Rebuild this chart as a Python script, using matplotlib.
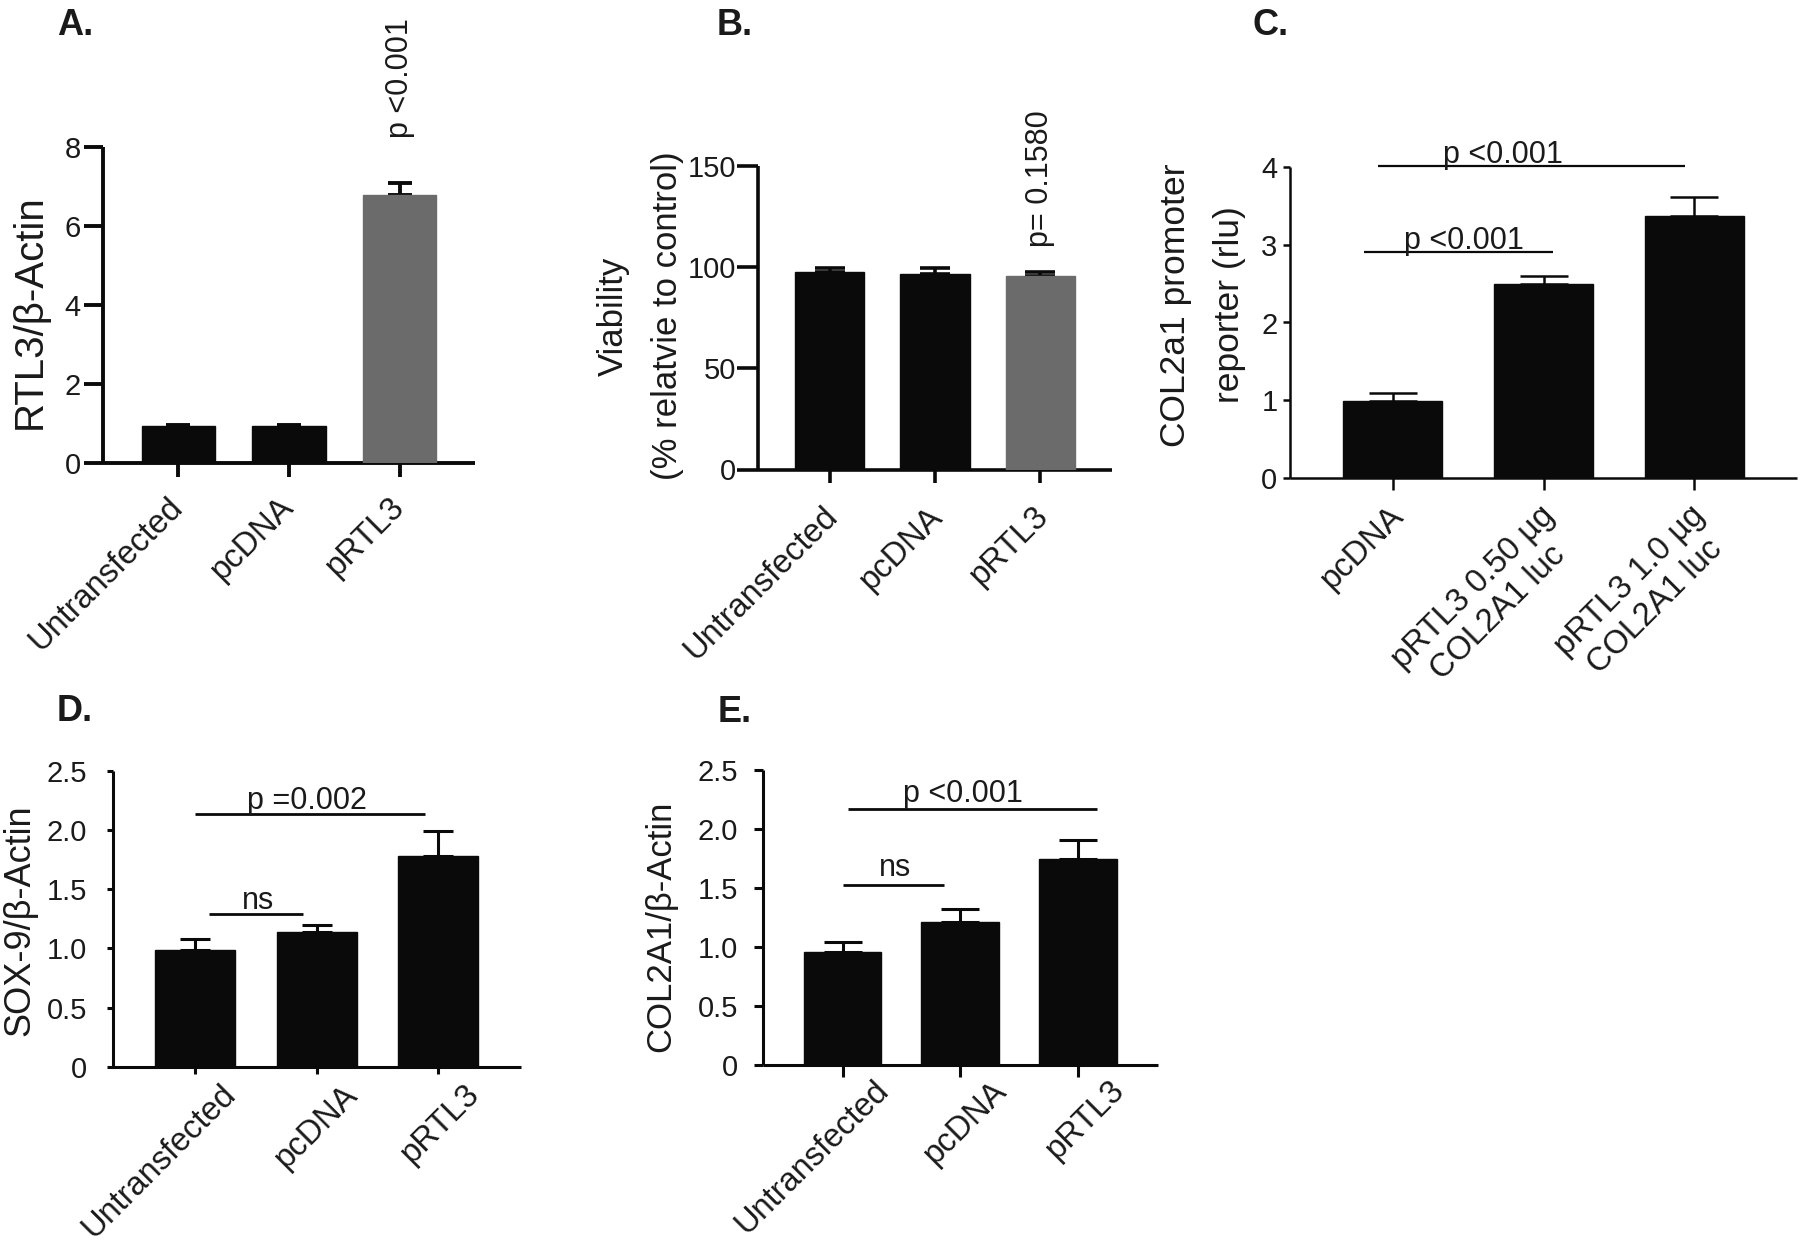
import numpy as np
import matplotlib.pyplot as plt
from matplotlib.transforms import ScaledTranslation

plt.rcParams['font.family'] = ['Liberation Sans', 'DejaVu Sans']

# ---- data ----
groups = ['Untransfected', 'pcDNA', 'pRTL3']
col2_groups = ['pcDNA', 'pRTL3 0.50 µg\nCOL2A1 luc', 'pRTL3 1.0 µg\nCOL2A1 luc']

rtl3_mean = [0.93, 0.93, 6.8]
rtl3_err = [0.03, 0.03, 0.3]

viab_mean = [97.3, 96.4, 95.4]
viab_err = [2.1, 3.0, 1.9]

col2_luc_mean = [0.99, 2.50, 3.37]
col2_luc_err = [0.10, 0.10, 0.25]

sox9_mean = [0.99, 1.14, 1.78]
sox9_err = [0.09, 0.06, 0.21]

col2a1_mean = [0.96, 1.21, 1.745]
col2a1_err = [0.08, 0.11, 0.165]

BLACK = '#0a0a0a'
GREY = '#6b6b6b'
TXT = '#1a1a1a'

W, H = 1800, 1243
fig = plt.figure(figsize=(18, 12.43), dpi=100)


def px_axes(left, right, top, bottom):
    return fig.add_axes([left / W, 1 - bottom / H, (right - left) / W, (bottom - top) / H])


def fig_text(x, y, s, **kw):
    fig.text(x / W, 1 - y / H, s, color=TXT, **kw)


def bar_panel(ax, labels, means, errs, colors, ylim, yticks, yticklabels,
              lw, cap, ytick_len, xtick_len, ytick_pad, lab_off):
    x = np.arange(len(labels))
    ax.bar(x, means, width=0.66, color=colors, edgecolor=colors, linewidth=1, zorder=3)
    ax.errorbar(x, means, yerr=[np.zeros(len(errs)), errs], fmt='none', ecolor=BLACK,
                elinewidth=lw, capsize=cap, capthick=lw, zorder=2)
    ax.set_xlim(-0.68, 2.68)
    ax.set_ylim(*ylim)
    ax.set_yticks(yticks)
    ax.set_yticklabels(yticklabels, fontsize=21, color=TXT)
    ax.set_xticks(x)
    ax.set_xticklabels(labels, fontsize=23.5, rotation=45, ha='right', va='top',
                       rotation_mode='anchor', multialignment='center', color=TXT)
    for side in ['top', 'right']:
        ax.spines[side].set_visible(False)
    for side in ['left', 'bottom']:
        ax.spines[side].set_linewidth(lw)
        ax.spines[side].set_color(BLACK)
        ax.spines[side].set_capstyle('butt')
    ax.tick_params(axis='y', length=ytick_len, width=lw, pad=ytick_pad, color=BLACK)
    ax.tick_params(axis='x', length=xtick_len, width=lw, pad=0, color=BLACK)
    # shift the rotated tick labels so their upper end sits next to the tick
    dx, dy = lab_off
    off = ScaledTranslation(dx / 100, -(dy - xtick_len * 100 / 72) / 100, fig.dpi_scale_trans)
    for t in ax.get_xticklabels():
        t.set_transform(t.get_transform() + off)


def bracket(ax, x1, x2, y, label, tx, dy, lw):
    ax.plot([x1, x2], [y, y], color=BLACK, lw=lw, solid_capstyle='butt', clip_on=False)
    ax.text(tx, y + dy, label, ha='center', va='baseline', fontsize=22, color=TXT,
            clip_on=False)


# ---- A ----
axA = px_axes(103, 475, 147.4, 463)
bar_panel(axA, groups, rtl3_mean, rtl3_err, [BLACK, BLACK, GREY], (0, 8), [0, 2, 4, 6, 8],
          ['0', '2', '4', '6', '8'], 2.8, 8.5, 14, 10, 2, (-11, 28))
axA.text(2, 8.25, 'p <0.001', rotation=90, ha='center', va='bottom', fontsize=22,
         color=TXT, clip_on=False)
fig_text(30, 312, 'RTL3/β-Actin', rotation=90, ha='center', va='center', fontsize=29)
fig_text(57, 8, 'A.', fontsize=26, fontweight='bold', va='top', ha='left')

# ---- B ----
axB = px_axes(758, 1112, 165.6, 469.5)
bar_panel(axB, groups, viab_mean, viab_err, [BLACK, BLACK, GREY], (0, 150), [0, 50, 100, 150],
          ['0', '50', '100', '150'], 2.6, 10.5, 15, 9.5, 1, (-8, 31))
axB.text(2, 110, 'p= 0.1580', rotation=90, ha='center', va='bottom', fontsize=22,
         color=TXT, clip_on=False)
fig_text(613, 316, 'Viability', rotation=90, ha='center', va='center', fontsize=25)
fig_text(667, 316, '(% relatvie to control)', rotation=90, ha='center', va='center',
         fontsize=25)
fig_text(717, 8, 'B.', fontsize=26, fontweight='bold', va='top', ha='left')

# ---- C ----
axC = px_axes(1290, 1797, 167, 478)
bar_panel(axC, col2_groups, col2_luc_mean, col2_luc_err, [BLACK] * 3, (0, 4), [0, 1, 2, 3, 4],
          ['0', '1', '2', '3', '4'], 1.8, 17, 5, 8.5, 4, (-5, 22))
bracket(axC, -0.10, 1.94, 4.01, 'p <0.001', 0.73, 0.04, 1.6)
bracket(axC, -0.19, 1.06, 2.91, 'p <0.001', 0.47, 0.04, 1.6)
fig_text(1175, 305, 'COL2a1 promoter', rotation=90, ha='center', va='center', fontsize=25.5)
fig_text(1229, 305, 'reporter (rlu)', rotation=90, ha='center', va='center', fontsize=25.5)
fig_text(1252, 8, 'C.', fontsize=26, fontweight='bold', va='top', ha='left')

# ---- D ----
axD = px_axes(112.5, 521, 771, 1066.7)
bar_panel(axD, groups, sox9_mean, sox9_err, [BLACK] * 3, (0, 2.5), [0, 0.5, 1, 1.5, 2, 2.5],
          ['0', '0.5', '1.0', '1.5', '2.0', '2.5'], 2.2, 11, 4.5, 5, 14, (25, 12))
bracket(axD, 0.0, 1.89, 2.14, 'p =0.002', 0.92, 0.035, 2.0)
bracket(axD, 0.11, 0.89, 1.29, 'ns', 0.52, 0.045, 2.0)
fig_text(20, 920, 'SOX-9/β-Actin', rotation=90, ha='center', va='center', fontsize=26)
fig_text(57, 694, 'D.', fontsize=26, fontweight='bold', va='top', ha='left')

# ---- E ----
axE = px_axes(762.5, 1158, 770.4, 1064.6)
bar_panel(axE, groups, col2a1_mean, col2a1_err, [BLACK] * 3, (0, 2.5), [0, 0.5, 1, 1.5, 2, 2.5],
          ['0', '0.5', '1.0', '1.5', '2.0', '2.5'], 2.2, 14, 6.5, 8.5, 11, (31, 10))
bracket(axE, 0.05, 2.16, 2.17, 'p <0.001', 1.02, 0.06, 2.0)
bracket(axE, 0.0, 0.86, 1.53, 'ns', 0.45, 0.07, 2.0)
fig_text(661, 926, 'COL2A1/β-Actin', rotation=90, ha='center', va='center', fontsize=25)
fig_text(718, 695, 'E.', fontsize=26, fontweight='bold', va='top', ha='left')

fig.savefig('out.png', dpi=100, facecolor='white')
